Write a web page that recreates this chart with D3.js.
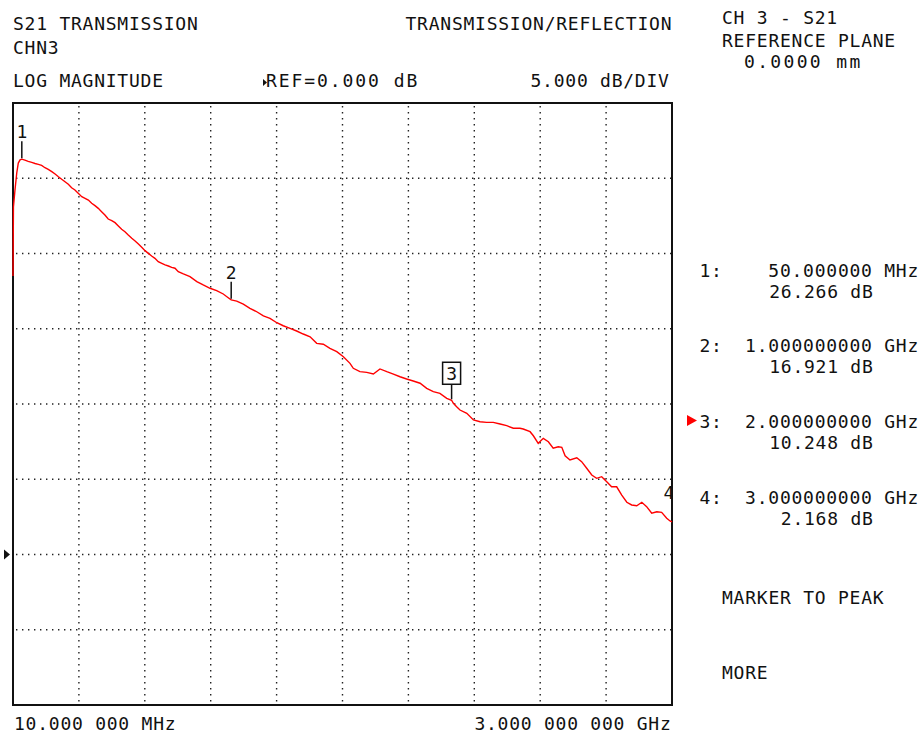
<!DOCTYPE html>
<html>
<head>
<meta charset="utf-8">
<script src="https://cdn.jsdelivr.net/npm/d3@7"></script>
<style>
  html, body { margin: 0; padding: 0; background: #fff; }
  svg { display: block; }
  text { font-family: "DejaVu Sans Mono", "Liberation Mono", monospace; font-size: 18px; letter-spacing: 0.76px; fill: #111; }
</style>
</head>
<body>
<svg id="chart" width="922" height="735"></svg>
<script>
// ---- data ----
const freqMHz = [10,12,19,27,34,42,50,64,79,95,110,125,140,155,170,186,201,216,231,246,261,276,291,306,322,337,352,367,382,397,412,427,442,458,473,488,503,518,533,549,564,579,594,609,624,639,654,669,685,700,715,730,745,760,783,813,844,873,904,934,964,985,1000,1025,1055,1085,1116,1146,1176,1207,1236,1267,1297,1327,1358,1388,1418,1448,1479,1509,1539,1554,1584,1615,1645,1675,1706,1736,1766,1796,1826,1857,1887,1917,1947,1978,2000,2008,2023,2038,2069,2099,2129,2159,2189,2220,2250,2280,2310,2325,2356,2371,2393,2416,2439,2461,2484,2500,2515,2537,2568,2590,2613,2636,2658,2681,2704,2726,2749,2772,2795,2817,2840,2863,2885,2908,2931,2953,2976,2991,3000];
const s21dB = [18.50,23.09,24.22,25.35,26.01,26.22,26.27,26.20,26.12,26.05,25.98,25.92,25.85,25.70,25.59,25.44,25.28,25.10,24.93,24.77,24.60,24.37,24.22,24.00,23.77,23.67,23.55,23.34,23.18,23.00,22.78,22.56,22.29,22.18,22.05,21.83,21.61,21.45,21.23,21.01,20.83,20.63,20.41,20.19,20.01,19.83,19.68,19.46,19.35,19.24,19.17,19.08,19.02,18.79,18.64,18.46,18.13,17.91,17.69,17.53,17.31,17.08,16.92,16.84,16.64,16.36,16.13,15.85,15.69,15.40,15.20,15.03,14.85,14.65,14.47,14.03,13.97,13.70,13.48,13.14,12.70,12.37,12.15,12.10,11.99,12.33,12.15,11.99,11.81,11.66,11.53,11.38,11.04,10.82,10.71,10.38,10.25,10.05,9.82,9.60,9.38,8.94,8.82,8.78,8.78,8.67,8.56,8.39,8.39,8.34,8.16,7.89,7.39,7.72,7.49,7.06,7.16,7.12,6.56,6.28,6.43,6.17,5.73,5.28,5.06,5.17,4.84,4.50,4.50,3.95,3.47,3.29,3.24,3.47,3.18,2.74,2.84,2.80,2.41,2.23,2.17];

const markerNum = [1, 2, 3, 4];
const markerFreqMHz = [50, 1000, 2000, 3000];
const markerDB = [26.266, 16.921, 10.248, 2.168];
const markerFreqText = ["50.000000 MHz", "1.000000000 GHz", "2.000000000 GHz", "3.000000000 GHz"];
const markerValText = ["26.266 dB", "16.921 dB", "10.248 dB", "2.168 dB"];
const activeMarker = 3;

const startFreq = 10, stopFreq = 3000;     // MHz
const refValue = 0, scaleDiv = 5;          // dB, dB/div
const topDB = 30, bottomDB = -10;
const startLabel = "10.000 000 MHz";
const stopLabel = "3.000 000 000 GHz";

const headerLeft = ["S21 TRANSMISSION", "CHN3", "LOG MAGNITUDE"];
const headerMid = ["REF=0.000 dB"];
const headerRight = ["TRANSMISSION/REFLECTION", "5.000 dB/DIV"];
const sidePanel = ["CH 3 - S21", "REFERENCE PLANE", "0.0000 mm"];
const softKeys = ["MARKER TO PEAK", "MORE"];

// ---- layout ----
const svg = d3.select("#chart");
svg.append("rect").attr("width", 922).attr("height", 735).attr("fill", "#fff");

const L = 13, R = 672, T = 103, B = 705;
const x = d3.scaleLinear().domain([startFreq, stopFreq]).range([L, R]);
const y = d3.scaleLinear().domain([bottomDB, topDB]).range([B, T]);

// grid
const xDiv = d3.range(1, 10).map(i => startFreq + i * (stopFreq - startFreq) / 10);
const yDiv = d3.range(bottomDB + scaleDiv, topDB, scaleDiv);
const grid = svg.append("g").attr("stroke", "#222").attr("stroke-width", 1.4).attr("stroke-dasharray", "1.4 4.6");
grid.selectAll("line.v").data(xDiv).join("line").attr("class", "v")
  .attr("x1", d => x(d)).attr("x2", d => x(d)).attr("y1", T + 3).attr("y2", B);
grid.selectAll("line.h").data(yDiv).join("line").attr("class", "h")
  .attr("y1", d => y(d)).attr("y2", d => y(d)).attr("x1", L + 3).attr("x2", R);

// frame
svg.append("rect").attr("x", L).attr("y", T).attr("width", R - L).attr("height", B - T)
  .attr("fill", "none").attr("stroke", "#111").attr("stroke-width", 2);

// reference position arrow
const ry = y(refValue);
svg.append("path").attr("d", `M4,${ry - 5} L10,${ry} L4,${ry + 5} Z`).attr("fill", "#111");

// trace
const pts = freqMHz.map((f, i) => [f, s21dB[i]]);
svg.append("path").datum(pts)
  .attr("fill", "none").attr("stroke", "#ff0000").attr("stroke-width", 1.4)
  .attr("d", d3.line().x(d => x(d[0])).y(d => y(d[1])));

// markers on trace
svg.append("clipPath").attr("id", "plotclip").append("rect")
  .attr("x", 0).attr("y", 0).attr("width", R).attr("height", B);
const mg = svg.append("g").attr("clip-path", "url(#plotclip)");
markerNum.forEach((n, i) => {
  const mx = x(markerFreqMHz[i]), my = y(markerDB[i]);
  const lx = Math.min(mx, R - 3);
  if (n === activeMarker) {
    mg.append("line").attr("x1", mx).attr("x2", mx).attr("y1", my - 1).attr("y2", my - 16)
      .attr("stroke", "#111").attr("stroke-width", 1.5);
    mg.append("rect").attr("x", mx - 9).attr("y", my - 38).attr("width", 18).attr("height", 22)
      .attr("fill", "#fff").attr("stroke", "#111").attr("stroke-width", 1.5);
    mg.append("text").attr("x", mx).attr("y", my - 20).attr("text-anchor", "middle")
      .style("letter-spacing", "0px").text(n);
  } else {
    if (n !== 4) {
      mg.append("line").attr("x1", mx).attr("x2", mx).attr("y1", my - 1).attr("y2", my - 18)
        .attr("stroke", "#111").attr("stroke-width", 1.5);
    }
    mg.append("text").attr("x", lx).attr("y", my - 21 - (n === 4 ? 2 : 0)).attr("text-anchor", "middle")
      .style("letter-spacing", "0px").text(n);
  }
});

// header text
const tx = (s, X, Y, W) => {
  const t = svg.append("text").attr("x", X).attr("y", Y).text(s);
  if (W) t.attr("textLength", W).attr("lengthAdjust", "spacing");
  return t;
};
tx(headerLeft[0], 13, 29.5);
tx(headerLeft[1], 13, 54);
tx(headerLeft[2], 13, 87);
svg.append("path").attr("d", "M263,79 L267,82.5 L263,86 Z").attr("fill", "#111");
tx(headerMid[0], 266, 87, 152);
tx(headerRight[0], 405.5, 29.5);
tx(headerRight[1], 530.5, 87);
tx(sidePanel[0], 722, 23.5);
tx(sidePanel[1], 722, 46.5);
tx(sidePanel[2], 744, 68, 117);

// marker readouts
const rowBase = [276.5, 351.5, 428, 503.5];
markerNum.forEach((n, i) => {
  const b = rowBase[i];
  tx(n + ":", 699.5, b);
  const ft = markerFreqText[i];
  tx(ft, 916.5 - (ft.length * 11.6 - 2.6), b);
  const vt = markerValText[i];
  tx(vt, 871 - (vt.length * 11.6 - 2.6), b + 21);
  if (n === activeMarker) {
    svg.append("path").attr("d", `M687,${b - 13} L697,${b - 7.5} L687,${b - 2} Z`).attr("fill", "#ff0000");
  }
});

tx(softKeys[0], 722, 604);
tx(softKeys[1], 722, 679);

// start / stop
tx(startLabel, 14, 730);
tx(stopLabel, 669 - (stopLabel.length * 11.6 - 2.6), 730);
</script>
</body>
</html>
